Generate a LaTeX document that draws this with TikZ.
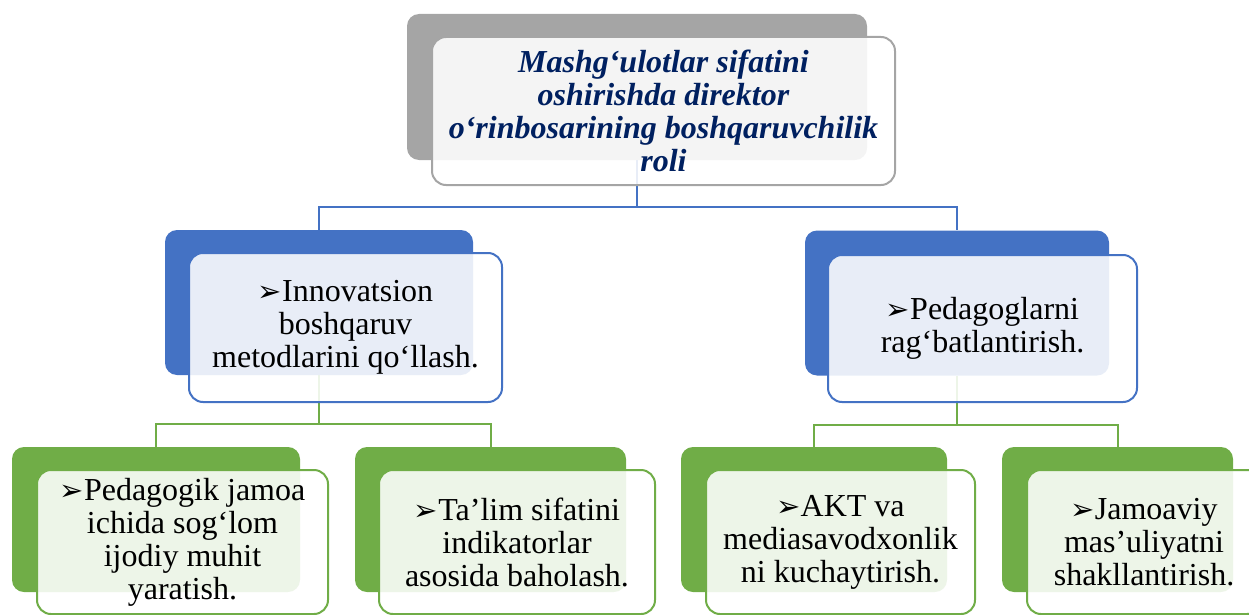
\documentclass[tikz,border=0pt]{standalone}
\usepackage{fontspec}
\setmainfont{Liberation Serif}
\newfontfamily\dejavu{DejaVu Sans}
\usetikzlibrary{backgrounds}
\definecolor{boxgray}{HTML}{A5A5A5}
\definecolor{boxblue}{HTML}{4472C4}
\definecolor{boxgreen}{HTML}{70AD47}
\definecolor{titlenavy}{HTML}{002060}
\newcommand{\arrmark}{{\dejavu\fontsize{29}{29}\selectfont ➢}}
\begin{document}
\begin{tikzpicture}[x=1pt,y=-1pt,
  backbox/.style={rectangle,rounded corners=12pt,inner sep=0pt,minimum height=145pt},
  frontbox/.style={rectangle,rounded corners=14pt,fill=white,fill opacity=0.88,text opacity=1,
    line width=2pt,inner sep=0pt,align=center,font=\fontsize{32}{33}\selectfont},
  link/.style={line width=2pt}]
\clip (0,0) rectangle (1249,615);
\node[backbox,fill=boxgray,minimum width=460pt,minimum height=146pt] (topB) at (637,87) {};
\node[frontbox,draw=boxgray,minimum width=463pt,minimum height=148pt,text=titlenavy,
  font=\fontsize{32}{33}\selectfont\bfseries\itshape] (topF) at (663.5,111)
  {Mashg‘ulotlar sifatini\\oshirishda direktor\\o‘rinbosarining boshqaruvchilik\\roli};
\node[backbox,fill=boxblue,minimum width=308pt] (midLB) at (319,302.5) {};
\node[frontbox,draw=boxblue,minimum width=313pt,minimum height=149pt] (midLF) at (345.5,327.5)
  {\arrmark Innovatsion\\boshqaruv\\metodlarini qo‘llash.};
\node[backbox,fill=boxblue,minimum width=304pt] (midRB) at (957,303) {};
\node[frontbox,draw=boxblue,minimum width=309pt,minimum height=147pt] (midRF) at (982.5,328.5)
  {\arrmark Pedagoglarni\\rag‘batlantirish.};
\node[backbox,fill=boxgreen,minimum width=288pt] (b1B) at (156,519.5) {};
\node[frontbox,draw=boxgreen,minimum width=291pt,minimum height=144pt] (b1F) at (182.5,542)
  {\arrmark Pedagogik jamoa\\ichida sog‘lom\\ijodiy muhit\\yaratish.};
\node[backbox,fill=boxgreen,minimum width=271pt] (b2B) at (490.5,519.5) {};
\node[frontbox,draw=boxgreen,minimum width=276pt,minimum height=144pt] (b2F) at (517,542)
  {\arrmark Ta’lim sifatini\\indikatorlar\\asosida baholash.};
\node[backbox,fill=boxgreen,minimum width=266pt] (b3B) at (814,519.5) {};
\node[frontbox,draw=boxgreen,minimum width=269pt,minimum height=144pt] (b3F) at (840.5,542)
  {\arrmark AKT va\\mediasavodxonlik\\ni kuchaytirish.};
\node[backbox,fill=boxgreen,minimum width=231pt] (b4B) at (1117.5,519.5) {};
\node[frontbox,draw=boxgreen,minimum width=234pt,minimum height=144pt] (b4F) at (1144,542)
  {\arrmark Jamoaviy\\mas’uliyatni\\shakllantirish.};
\begin{scope}[on background layer]
\draw[link,boxblue] (topB.south) -- ++(0,-47pt) -| (midLB.north);
\draw[link,boxblue] (topB.south) -- ++(0,-47pt) -| (midRB.north);
\draw[link,boxgreen] (midLB.south) -- ++(0,-49pt) -| (b1B.north);
\draw[link,boxgreen] (midLB.south) -- ++(0,-49pt) -| (b2B.north);
\draw[link,boxgreen] (midRB.south) -- ++(0,-49pt) -| (b3B.north);
\draw[link,boxgreen] (midRB.south) -- ++(0,-49pt) -| (b4B.north);
\end{scope}
\end{tikzpicture}
\end{document}
